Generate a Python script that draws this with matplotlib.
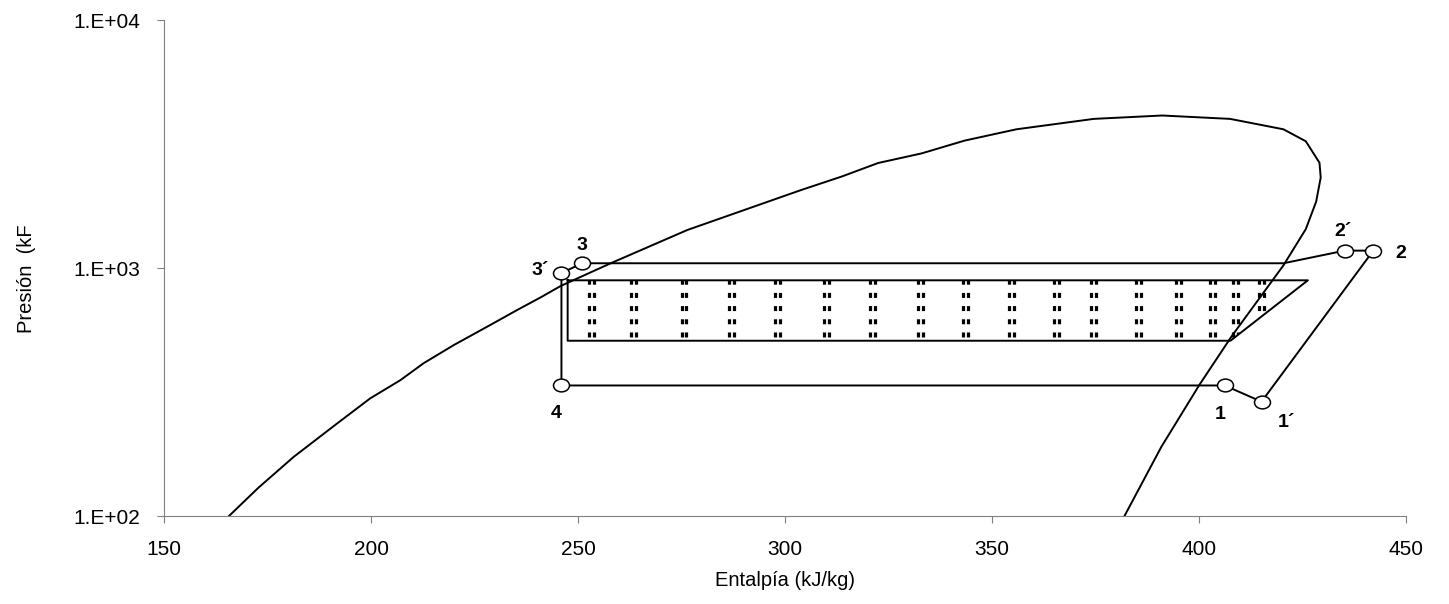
import numpy as np
import matplotlib
matplotlib.use("Agg")
import matplotlib.pyplot as plt
from matplotlib.path import Path
from matplotlib.patches import Polygon
from matplotlib.ticker import FuncFormatter, NullLocator
from matplotlib.transforms import Affine2D

plt.rcParams['font.family'] = ['Liberation Sans', 'DejaVu Sans']
plt.rcParams['lines.scale_dashes'] = False

# saturation dome (enthalpy kJ/kg, pressure kPa)
dome_h = [165.7, 172.8, 181.3, 191.8, 199.8, 207.1, 212.7, 220.0, 228.8, 235.3,
          240.9, 245.8, 257.9, 276.4, 303.8, 313.8, 322.5, 333.0, 343.4, 355.9,
          374.6, 391.1, 407.5, 420.4, 425.8, 429.1, 429.4, 428.3, 425.8, 420.4,
          407.8, 400.1, 390.9, 382.0]
dome_p = [100, 130, 173, 236, 298, 353, 413, 489, 589, 677,
          760, 846, 1045, 1423, 2060, 2341, 2651, 2898, 3264, 3625,
          3993, 4120, 3993, 3625, 3243, 2658, 2317, 1852, 1435, 1025,
          528, 338, 190, 100]

# refrigeration cycle path 3' -> 3 -> 2' -> 2 -> 1' -> 1 -> 4 -> 3'
cycle_h = [246.0, 251.0, 420.4, 435.2, 442.1, 415.1, 406.2, 246.0, 246.0]
cycle_p = [954, 1045, 1045, 1175, 1175, 289, 336, 336, 954]

state_names = ["3´", "3", "2´", "2", "1´", "1", "4"]
state_h = [246.0, 251.0, 435.2, 442.1, 415.1, 406.2, 246.0]
state_p = [954, 1045, 1175, 1175, 289, 336, 336]

# heat exchanger zone
hx_h = [247.5, 426.3, 407.6, 247.5, 247.5]
hx_p = [892, 892, 509, 509, 892]
col_h = [253.3, 263.4, 275.6, 287.0, 298.3, 310.1, 321.2, 332.8, 343.5,
         354.8, 365.6, 374.5, 385.5, 395.0, 403.3, 408.7, 415.1]


def main():
    fig, ax = plt.subplots(figsize=(14.49, 6.04), dpi=100)
    fig.subplots_adjust(left=164 / 1449, right=1406 / 1449, bottom=88 / 604, top=584 / 604)

    ax.plot(dome_h, dome_p, color='black', lw=1.4)
    ax.plot(cycle_h, cycle_p, color='black', lw=1.4)
    ax.plot(hx_h, hx_p, color='black', lw=1.4)

    clip = Polygon(np.column_stack([hx_h, hx_p]), closed=True, fill=False,
                   edgecolor='none', transform=ax.transData)
    ax.add_patch(clip)
    for h in col_h:
        for dh in (-0.6, 0.6):
            ln, = ax.plot([h + dh, h + dh], [min(hx_p), max(hx_p)], color='black',
                          lw=2.3, linestyle=(6.6, (3.6, 5.9)))
            ln.set_clip_path(clip)

    ell = Path.unit_circle().transformed(Affine2D().scale(1.0, 0.8))
    ax.plot(state_h, state_p, linestyle='none', marker=ell, ms=11.5,
            mfc='white', mec='black', mew=1.1, zorder=3)

    offsets = [(-15, 1.5), (0, 13), (-1, 14), (19.5, -2), (18, -15), (-3, -21), (-3.6, -20)]
    for name, h, p, off in zip(state_names, state_h, state_p, offsets):
        ax.annotate(name, (h, p), xytext=off, textcoords='offset points',
                    ha='center', va='center', fontsize=14, fontweight='bold')

    ax.set_xlim(150, 450)
    ax.set_xticks(range(150, 451, 50))
    ax.set_yscale('log')
    ax.set_ylim(100, 10000)
    ax.set_yticks([100, 1000, 10000])
    ax.yaxis.set_minor_locator(NullLocator())
    ax.yaxis.set_major_formatter(FuncFormatter(lambda v, pos: "1.E+%02d" % round(np.log10(v))))

    for s in ['top', 'right']:
        ax.spines[s].set_visible(False)
    for s in ['left', 'bottom']:
        ax.spines[s].set_color('#808080')
        ax.spines[s].set_linewidth(0.8)
    ax.tick_params(direction='out', length=5, width=0.8, color='#808080',
                   labelcolor='black', labelsize=15, pad=12)

    fig.text(785 / 1449, 1 - 580 / 604, "Entalpía (kJ/kg)", ha='center', va='center', fontsize=14.5)
    fig.text(27 / 1449, 1 - 333 / 604, "Presión  (kF", rotation=90, ha='center', va='bottom', fontsize=14.5)

    fig.savefig('out.png', dpi=100)


if __name__ == '__main__':
    main()
